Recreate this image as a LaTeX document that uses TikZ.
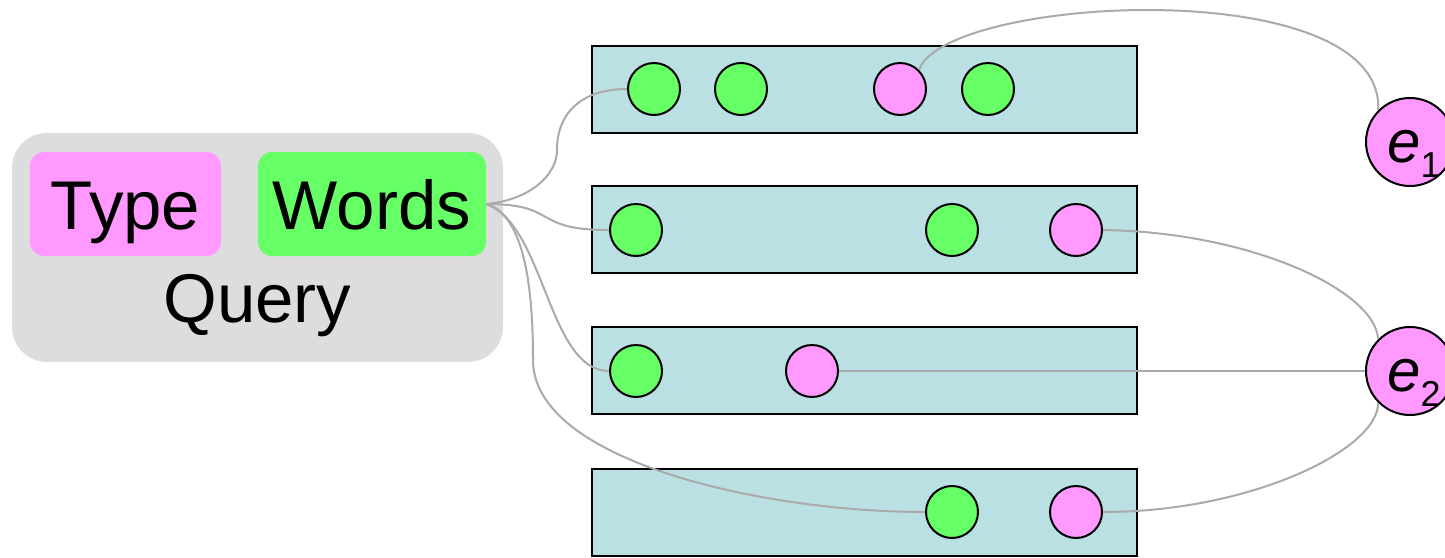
\documentclass[tikz,border=0pt]{standalone}
\usepackage{fontspec}
\setmainfont{Liberation Sans}
\definecolor{qgray}{HTML}{DDDDDD}
\definecolor{tpink}{HTML}{FF99FF}
\definecolor{wgreen}{HTML}{66FF66}
\definecolor{rowblue}{HTML}{BBE0E3}
\definecolor{lgray}{HTML}{AAAAAA}
\begin{document}
\begin{tikzpicture}[x=1pt,y=-1pt,
  qbox/.style={draw=none,fill=qgray,rounded corners=35pt,minimum width=491pt,minimum height=229pt,inner sep=0pt},
  tagbox/.style={draw=none,rounded corners=14pt,minimum height=104pt,inner sep=0pt,
     font=\fontsize{69}{80}\selectfont,text height=50pt,text depth=0pt},
  rowbox/.style={draw=black,line width=2pt,fill=rowblue,minimum width=545pt,minimum height=87pt,inner sep=0pt},
  dot/.style={circle,draw=black,line width=2pt,minimum size=52pt,inner sep=0pt},
  gdot/.style={dot,fill=wgreen},
  pdot/.style={dot,fill=tpink},
  ent/.style={circle,draw=black,line width=2pt,fill=tpink,minimum size=88pt,inner sep=0pt},
  elab/.style={anchor=base west,inner sep=0pt},
  link/.style={draw=lgray,line width=2pt}
]
\useasboundingbox (0,0) rectangle (1445,557);

% query
\node[qbox] (q) at (257.5,247.5) {};
\node[tagbox,fill=tpink,minimum width=191pt] (type) at (125.5,204) {Type};
\node[tagbox,fill=wgreen,minimum width=228pt] (words) at (372,204) {Words};
\node[anchor=base,inner sep=0pt,font=\fontsize{69}{80}\selectfont] (qt) at (257.5,322) {Query};

% rows
\node[rowbox] (r1) at (864.5,89) {};
\node[rowbox] (r2) at (864.5,229.5) {};
\node[rowbox] (r3) at (864.5,370.5) {};
\node[rowbox] (r4) at (864.5,512) {};

\node[gdot] (g11) at (654,89) {};
\node[gdot] (g12) at (741,89) {};
\node[pdot] (p11) at (900,89) {};
\node[gdot] (g13) at (988,89) {};

\node[gdot] (g21) at (636,230) {};
\node[gdot] (g22) at (952,230) {};
\node[pdot] (p21) at (1076,230) {};

\node[gdot] (g31) at (636,371) {};
\node[pdot] (p31) at (812,371) {};

\node[gdot] (g41) at (952,512) {};
\node[pdot] (p41) at (1076,512) {};

% entities
\node[ent] (e1) at (1410,142) {};
\node[ent] (e2) at (1410,371) {};
\node[elab] (l1) at (1387,162) {\fontsize{60}{60}\selectfont\itshape e\raisebox{-15pt}{\upshape\fontsize{36}{40}\selectfont 1}};
\node[elab] (l2) at (1387,391) {\fontsize{60}{60}\selectfont\itshape e\raisebox{-15pt}{\upshape\fontsize{36}{40}\selectfont 2}};

% links from words
\path[link] (words.east) .. controls (530,200) and (557,175) .. (557,150) .. controls (557,110) and (585,89) .. (g11.west);
\path[link] (words.east) .. controls (560,204) and (530,230) .. (g21.west);
\path[link] (words.east) .. controls (545,225) and (548,371) .. (g31.west);
\path[link] (words.east) .. controls (525,215) and (533,290) .. (533,360) .. controls (533,460) and (760,512) .. (g41.west);

% links to entities
\path[link] (p11.45) .. controls (945,-5) and (1385,-28) .. (e1.135);
\path[link] (p21.east) .. controls (1250,232) and (1375,290) .. (e2.135);
\path[link] (p31.east) -- (e2.west);
\path[link] (p41.east) .. controls (1250,512) and (1378,450) .. (e2.225);
\end{tikzpicture}
\end{document}
